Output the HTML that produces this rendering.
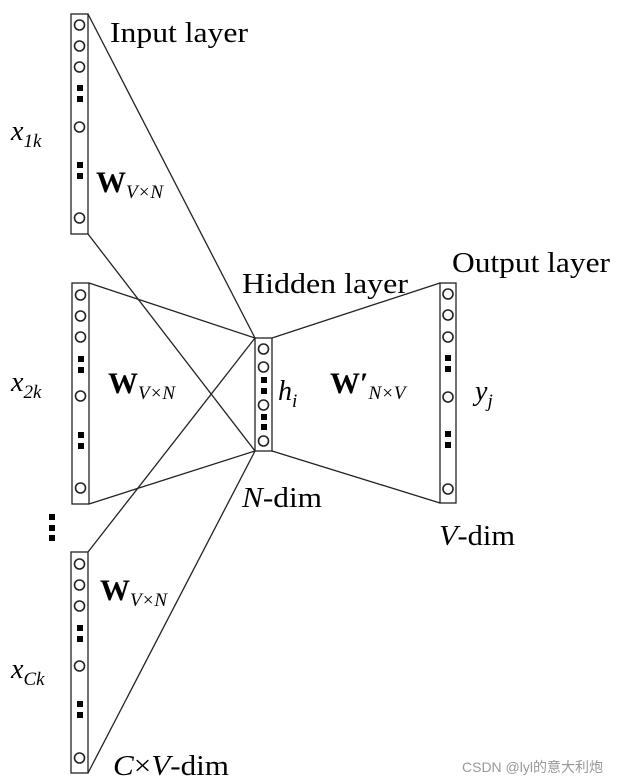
<!DOCTYPE html>
<html><head><meta charset="utf-8"><style>
html,body{margin:0;padding:0;background:#fff;}
svg{display:block;}
.t{font-family:"Liberation Serif",serif;font-size:28px;fill:#000;}
.w{font-family:"Liberation Serif",serif;font-size:30px;font-weight:bold;fill:#000;}
.s{font-family:"Liberation Serif",serif;font-size:19px;font-style:italic;fill:#000;}
.i{font-family:"Liberation Serif",serif;font-style:italic;fill:#000;}
</style></head><body>
<svg width="620" height="784" viewBox="0 0 620 784" xmlns="http://www.w3.org/2000/svg">
<g stroke="#222" stroke-width="1.3" fill="none">
<line x1="88" y1="14" x2="255" y2="338"/>
<line x1="88" y1="234" x2="255" y2="451"/>
<line x1="89" y1="283" x2="255" y2="338"/>
<line x1="89" y1="504" x2="255" y2="451"/>
<line x1="88" y1="552" x2="255" y2="338"/>
<line x1="88" y1="773" x2="255" y2="451"/>
<line x1="272" y1="338" x2="440" y2="283"/>
<line x1="272" y1="451" x2="440" y2="503"/>
<rect x="71" y="14" width="17" height="220" fill="#fff"/>
<rect x="72" y="283" width="17" height="221" fill="#fff"/>
<rect x="71" y="552" width="17" height="221" fill="#fff"/>
<rect x="255" y="338" width="17" height="113" fill="#fff"/>
<rect x="440" y="283" width="16" height="220" fill="#fff"/>
<g stroke-width="1.6">
<circle cx="79.5" cy="25" r="5"/><circle cx="79.5" cy="46" r="5"/><circle cx="79.5" cy="67" r="5"/><circle cx="79.5" cy="127" r="5"/><circle cx="79.5" cy="218" r="5"/>
<circle cx="80.5" cy="295" r="5"/><circle cx="80.5" cy="316" r="5"/><circle cx="80.5" cy="337" r="5"/><circle cx="80.5" cy="396" r="5"/><circle cx="80.5" cy="488" r="5"/>
<circle cx="79.5" cy="564" r="5"/><circle cx="79.5" cy="585" r="5"/><circle cx="79.5" cy="606" r="5"/><circle cx="79.5" cy="666" r="5"/><circle cx="79.5" cy="758" r="5"/>
<circle cx="263.5" cy="349" r="5"/><circle cx="263.5" cy="367" r="5"/><circle cx="263.5" cy="405" r="5"/><circle cx="263.5" cy="441" r="5"/>
<circle cx="448" cy="294" r="5"/><circle cx="448" cy="315" r="5"/><circle cx="448" cy="337" r="5"/><circle cx="448" cy="397" r="5"/><circle cx="448" cy="489" r="5"/>
</g>
</g>
<g fill="#000">
<rect x="77" y="85" width="6" height="6"/><rect x="77" y="96" width="6" height="6"/>
<rect x="77" y="162" width="6" height="6"/><rect x="77" y="173" width="6" height="6"/>
<rect x="78" y="356" width="6" height="6"/><rect x="78" y="367" width="6" height="6"/>
<rect x="78" y="432" width="6" height="6"/><rect x="78" y="443" width="6" height="6"/>
<rect x="77" y="625" width="6" height="6"/><rect x="77" y="636" width="6" height="6"/>
<rect x="77" y="701" width="6" height="6"/><rect x="77" y="712" width="6" height="6"/>
<rect x="261" y="377" width="6" height="6"/><rect x="261" y="388" width="6" height="6"/>
<rect x="261" y="414" width="6" height="6"/><rect x="261" y="424" width="6" height="6"/>
<rect x="445" y="355" width="6" height="6"/><rect x="445" y="366" width="6" height="6"/>
<rect x="445" y="431" width="6" height="6"/><rect x="445" y="442" width="6" height="6"/>
<rect x="49" y="514" width="6" height="6"/><rect x="49" y="525" width="6" height="6"/><rect x="49" y="535" width="6" height="6"/>
</g>
<text class="t" x="110" y="42" textLength="138" lengthAdjust="spacingAndGlyphs">Input layer</text>
<text class="t" x="242" y="293" textLength="166" lengthAdjust="spacingAndGlyphs">Hidden layer</text>
<text class="t" x="452" y="272" textLength="158" lengthAdjust="spacingAndGlyphs">Output layer</text>
<text class="t" x="242" y="507" textLength="80" lengthAdjust="spacingAndGlyphs"><tspan font-style="italic">N</tspan>-dim</text>
<text class="t" x="439" y="545" textLength="76" lengthAdjust="spacingAndGlyphs"><tspan font-style="italic">V</tspan>-dim</text>
<text class="t" x="113" y="775" textLength="116" lengthAdjust="spacingAndGlyphs"><tspan font-style="italic">C</tspan>×<tspan font-style="italic">V</tspan>-dim</text>
<text class="i" x="11" y="140" font-size="28">x<tspan font-size="19" dy="7">1k</tspan></text>
<text class="i" x="11" y="391" font-size="28">x<tspan font-size="19" dy="7">2k</tspan></text>
<text class="i" x="11" y="678" font-size="28">x<tspan font-size="19" dy="7">Ck</tspan></text>
<text class="w" x="96" y="192">W<tspan class="s" font-weight="normal" dy="6">V×N</tspan></text>
<text class="w" x="108" y="393">W<tspan class="s" font-weight="normal" dy="6">V×N</tspan></text>
<text class="w" x="100" y="600">W<tspan class="s" font-weight="normal" dy="6">V×N</tspan></text>
<text class="w" x="330" y="393">W′<tspan class="s" font-weight="normal" dy="6">N×V</tspan></text>
<text class="i" x="278" y="400" font-size="28">h<tspan font-size="19" dy="7">i</tspan></text>
<text class="i" x="475" y="400" font-size="28">y<tspan font-size="19" dy="7">j</tspan></text>
<text x="462" y="772" font-family="Liberation Sans, Noto Sans CJK SC, sans-serif" font-size="14" fill="#999">CSDN @lyl的意大利炮</text>
</svg>
</body></html>
